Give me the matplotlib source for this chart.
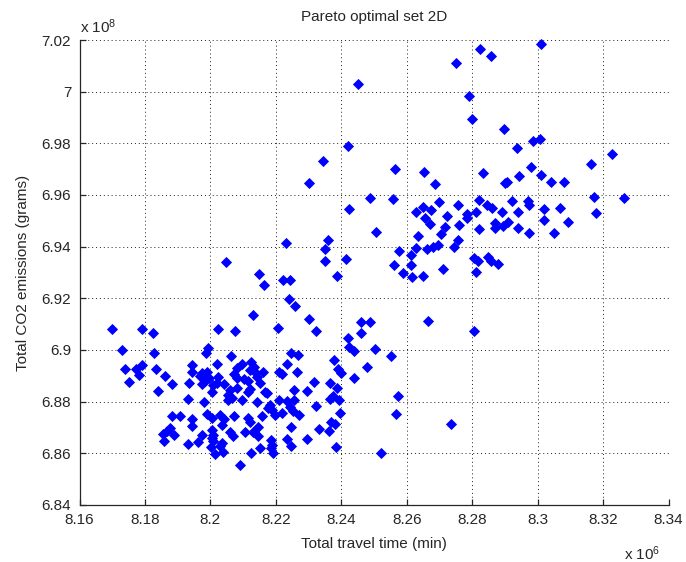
import matplotlib
matplotlib.use('Agg')
import matplotlib.pyplot as plt

# values: travel time in 1e6 min, CO2 in 1e8 grams
travel_time = [
    8.2049, 8.1699, 8.1790, 8.1824, 8.2023, 8.2076, 8.1729, 8.1828, 8.1994, 8.1986,
    8.2064, 8.1739, 8.1773, 8.1790, 8.1835, 8.1943, 8.2019, 8.1989, 8.1945, 8.1861,
    8.1882, 8.1936, 8.1967, 8.1979, 8.1996, 8.1984, 8.1974, 8.1974, 8.2023, 8.2021,
    8.2080, 8.2098, 8.2123, 8.2121, 8.2132, 8.2139, 8.2141, 8.2162, 8.2071, 8.2080,
    8.2103, 8.2116, 8.2152, 8.1782, 8.1752, 8.1841, 8.2009, 8.2004, 8.2042, 8.2060,
    8.2055, 8.2065, 8.2055, 8.2081, 8.2121, 8.2116, 8.2096, 8.1931, 8.1981, 8.1882,
    8.1907, 8.1945, 8.1945, 8.1989, 8.2005, 8.2029, 8.2042, 8.2035, 8.2072, 8.1877,
    8.1867, 8.1856, 8.1890, 8.1857, 8.1973, 8.1963, 8.1933, 8.2004, 8.2009, 8.2004,
    8.2009, 8.2060, 8.2070, 8.2035, 8.2029, 8.2002, 8.2014, 8.2040, 8.2089, 8.2106,
    8.2131, 8.2146, 8.2116, 8.2121, 8.2157, 8.2146, 8.2142, 8.2211, 8.2220, 8.2234,
    8.2264, 8.2167, 8.2172, 8.2182, 8.2177, 8.2187, 8.2197, 8.2211, 8.2233, 8.2256,
    8.2242, 8.2251, 8.2220, 8.2254, 8.2272, 8.2296, 8.2317, 8.2323, 8.2366, 8.2388,
    8.2366, 8.2375, 8.2392, 8.2391, 8.2398, 8.2439, 8.2478, 8.2395, 8.2574, 8.2567,
    8.2184, 8.2187, 8.2184, 8.2152, 8.2123, 8.2192, 8.2245, 8.2235, 8.2245, 8.2296,
    8.2333, 8.2364, 8.2368, 8.2381, 8.2384, 8.2521, 8.2149, 8.2164, 8.2221, 8.2243,
    8.2350, 8.2414, 8.2388, 8.2562, 8.2239, 8.2260, 8.2131, 8.2301, 8.2323, 8.2206,
    8.2459, 8.2488, 8.2459, 8.2420, 8.2425, 8.2439, 8.2504, 8.2551, 8.2245, 8.2269,
    8.2379, 8.2231, 8.2735, 8.2665,
    8.2750, 8.2450, 8.2422, 8.2345, 8.2301, 8.2563, 8.2653, 8.2687, 8.2489, 8.2558,
    8.2425, 8.2628, 8.2650, 8.2675, 8.2700, 8.2757, 8.2657, 8.2671, 8.2724, 8.2716,
    8.2760, 8.2704, 8.2633, 8.2756, 8.2505, 8.2359, 8.2349, 8.2575, 8.2612, 8.2628,
    8.2661, 8.2681, 8.2695, 8.2745, 8.2783, 8.2783, 8.2812, 8.2821, 8.2822, 8.2612,
    8.2590, 8.2615, 8.2649, 8.2712, 8.2805, 8.2817, 8.2813, 8.2824, 8.2857, 8.3010,
    8.2790, 8.2799, 8.2898, 8.2936, 8.2985, 8.3007, 8.3227, 8.3163, 8.2833, 8.2906,
    8.2900, 8.2944, 8.2981, 8.3011, 8.3040, 8.3081, 8.2923, 8.2970, 8.3173, 8.3264,
    8.2845, 8.2860, 8.2890, 8.2974, 8.2939, 8.3021, 8.3069, 8.3020, 8.3094, 8.3050,
    8.3178, 8.2870, 8.2870, 8.2895, 8.2911, 8.2939, 8.2974, 8.2848, 8.2858, 8.2878,
    8.2807,
]
co2_emissions = [
    6.9340, 6.9081, 6.9081, 6.9067, 6.9081, 6.9072, 6.8999, 6.8987, 6.9009, 6.8988,
    6.8977, 6.8928, 6.8928, 6.8941, 6.8925, 6.8942, 6.8946, 6.8916, 6.8913, 6.8898,
    6.8867, 6.8874, 6.8898, 6.8892, 6.8892, 6.8880, 6.8867, 6.8911, 6.8896, 6.8871,
    6.8932, 6.8946, 6.8954, 6.8923, 6.8934, 6.8911, 6.8896, 6.8913, 6.8909, 6.8891,
    6.8886, 6.8880, 6.8872, 6.8903, 6.8876, 6.8841, 6.8865, 6.8839, 6.8868, 6.8845,
    6.8826, 6.8813, 6.8805, 6.8851, 6.8849, 6.8836, 6.8805, 6.8809, 6.8800, 6.8745,
    6.8745, 6.8732, 6.8707, 6.8751, 6.8735, 6.8750, 6.8731, 6.8710, 6.8745, 6.8697,
    6.8687, 6.8675, 6.8671, 6.8648, 6.8671, 6.8643, 6.8635, 6.8690, 6.8671, 6.8658,
    6.8646, 6.8684, 6.8667, 6.8639, 6.8628, 6.8626, 6.8596, 6.8604, 6.8555, 6.8681,
    6.8684, 6.8667, 6.8736, 6.8723, 6.8745, 6.8703, 6.8797, 6.8915, 6.8908, 6.8944,
    6.8913, 6.8839, 6.8832, 6.8789, 6.8774, 6.8766, 6.8748, 6.8805, 6.8801, 6.8808,
    6.8778, 6.8764, 6.8756, 6.8845, 6.8750, 6.8841, 6.8877, 6.8783, 6.8871, 6.8852,
    6.8812, 6.8822, 6.8807, 6.8925, 6.8912, 6.8893, 6.8935, 6.8756, 6.8823, 6.8751,
    6.8652, 6.8632, 6.8620, 6.8620, 6.8601, 6.8600, 6.8703, 6.8656, 6.8630, 6.8656,
    6.8694, 6.8687, 6.8723, 6.8715, 6.8626, 6.8603, 6.9294, 6.9252, 6.9271, 6.9271,
    6.9345, 6.9354, 6.9288, 6.9330, 6.9197, 6.9172, 6.9136, 6.9119, 6.9072, 6.9086,
    6.9108, 6.9108, 6.9067, 6.9045, 6.9010, 6.8996, 6.9004, 6.8977, 6.8987, 6.8981,
    6.8961, 6.9414, 6.8714, 6.9112,
    7.0110, 7.0031, 6.9790, 6.9732, 6.9645, 6.9701, 6.9688, 6.9641, 6.9588, 6.9583,
    6.9546, 6.9535, 6.9552, 6.9541, 6.9572, 6.9563, 6.9510, 6.9489, 6.9520, 6.9478,
    6.9482, 6.9448, 6.9441, 6.9426, 6.9457, 6.9425, 6.9390, 6.9382, 6.9367, 6.9393,
    6.9390, 6.9398, 6.9408, 6.9400, 6.9525, 6.9511, 6.9534, 6.9579, 6.9467, 6.9329,
    6.9299, 6.9282, 6.9288, 6.9315, 6.9355, 6.9346, 6.9302, 7.0164, 7.0137, 7.0185,
    6.9984, 6.9894, 6.9857, 6.9783, 6.9809, 6.9816, 6.9758, 6.9720, 6.9684, 6.9652,
    6.9645, 6.9672, 6.9710, 6.9679, 6.9652, 6.9652, 6.9577, 6.9575, 6.9594, 6.9589,
    6.9561, 6.9551, 6.9535, 6.9561, 6.9535, 6.9546, 6.9551, 6.9503, 6.9494, 6.9452,
    6.9529, 6.9491, 6.9471, 6.9481, 6.9494, 6.9473, 6.9452, 6.9361, 6.9345, 6.9332,
    6.9074,
]

x_ticks = [8.16, 8.18, 8.20, 8.22, 8.24, 8.26, 8.28, 8.30, 8.32, 8.34]
x_labels = ['8.16', '8.18', '8.2', '8.22', '8.24', '8.26', '8.28', '8.3', '8.32', '8.34']
y_ticks = [6.84, 6.86, 6.88, 6.90, 6.92, 6.94, 6.96, 6.98, 7.00, 7.02]
y_labels = ['6.84', '6.86', '6.88', '6.9', '6.92', '6.94', '6.96', '6.98', '7', '7.02']

plt.rcParams['font.family'] = ['Liberation Sans', 'DejaVu Sans']
plt.rcParams['font.size'] = 11
plt.rcParams['mathtext.default'] = 'regular'

fig = plt.figure(figsize=(6.86, 5.62), dpi=100)
W, H = 686, 562
ax = fig.add_axes([79.5 / W, 1 - 505 / H, (668.5 - 79.5) / W, (505 - 40) / H])

ax.plot(travel_time, co2_emissions, linestyle='none', marker='D', markersize=4.6,
        color=(0, 0, 1), markeredgewidth=0.6, clip_on=False, zorder=3)

ax.set_xlim(8.16, 8.34)
ax.set_ylim(6.84, 7.02)
ax.set_xticks(x_ticks)
ax.set_xticklabels(x_labels)
ax.set_yticks(y_ticks)
ax.set_yticklabels(y_labels)

# matlab look: box off, dotted grid, inward ticks
for side in ['top', 'right']:
    ax.spines[side].set_visible(False)
for side in ['left', 'bottom']:
    ax.spines[side].set_linewidth(0.9)
    ax.spines[side].set_color('#262626')
ax.tick_params(direction='in', length=4, width=0.9, color='#262626', pad=6, labelcolor='#262626')
ax.grid(True, color='#202020', linestyle=(0, (1, 3)), linewidth=0.7)
ax.set_axisbelow(True)

ax.set_title('Pareto optimal set 2D', fontsize=11, pad=14, color='#262626')
ax.set_xlabel('Total travel time (min)', color='#262626', labelpad=7)
ax.set_ylabel('Total CO2 emissions (grams)', color='#262626', labelpad=8)

fig.text(80 / W, 1 - 33 / H, r'x 10$^{8}$', ha='left', va='baseline', color='#262626')
fig.text(660 / W, 1 - 560 / H, r'x 10$^{6}$', ha='right', va='baseline', color='#262626')

fig.savefig('out.png', dpi=100, facecolor='white')
